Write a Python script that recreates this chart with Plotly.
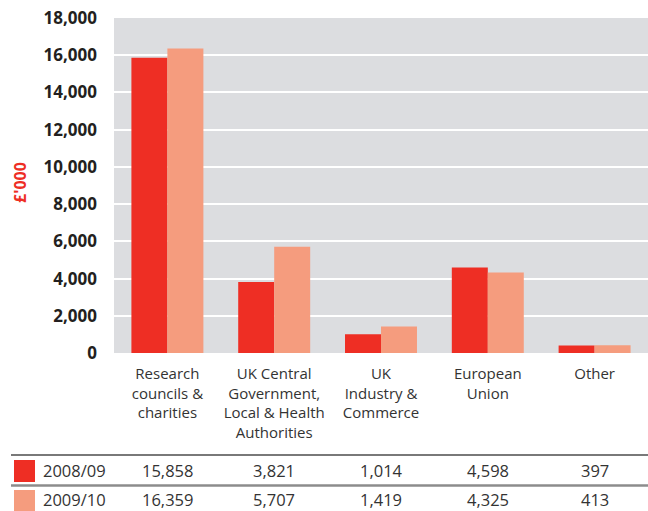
import plotly.graph_objects as go

# Research income by source, £'000
categories = [
    "Research<br>councils &<br>charities",
    "UK Central<br>Government,<br>Local & Health<br>Authorities",
    "UK<br>Industry &<br>Commerce",
    "European<br>Union",
    "Other",
]
years = ["2008/09", "2009/10"]
income_2008_09 = [15858, 3821, 1014, 4598, 397]
income_2009_10 = [16359, 5707, 1419, 4325, 413]
y_ticks = [0, 2000, 4000, 6000, 8000, 10000, 12000, 14000, 16000, 18000]

RED = "#ee2e24"
SALMON = "#f59c7e"
FONT = "Open Sans"

W, H = 648, 511
M_L, M_R, M_T, M_B = 114, 0, 18, 158
PW, PH = W - M_L - M_R, H - M_T - M_B


def px_x(x):
    return (x - M_L) / PW


def px_y(y):
    return (H - M_B - y) / PH


fig = go.Figure()
series = [(years[0], income_2008_09, RED), (years[1], income_2009_10, SALMON)]
for name, vals, col in series:
    fig.add_trace(go.Bar(x=categories, y=vals, name=name, marker_color=col,
                         marker_line_width=0, showlegend=False))

shapes = []
annotations = []

# table rules
shapes.append(dict(type="line", xref="paper", yref="paper",
                   x0=px_x(11), x1=1, y0=px_y(455), y1=px_y(455),
                   line=dict(color="#4d4d4d", width=1.5)))
shapes.append(dict(type="line", xref="paper", yref="paper",
                   x0=px_x(11), x1=1, y0=px_y(485.5), y1=px_y(485.5),
                   line=dict(color="#8c8c8c", width=2.5)))

row_centres = [470.5, 499]
swatch_spans = [(460, 482), (490, 511)]
for (name, vals, col), yc, (s0, s1) in zip(series, row_centres, swatch_spans):
    shapes.append(dict(type="rect", xref="paper", yref="paper",
                       x0=px_x(14), x1=px_x(35), y0=px_y(s0), y1=px_y(s1),
                       fillcolor=col, line_width=0))
    annotations.append(dict(text=name, xref="paper", yref="paper",
                            x=px_x(41), y=px_y(yc), xanchor="left", yanchor="middle",
                            showarrow=False, font=dict(family=FONT, size=16.5, color="#333333")))
    for cat, v in zip(categories, vals):
        annotations.append(dict(text=f"{v:,}", xref="x", yref="paper",
                                x=cat, y=px_y(yc), xanchor="center", yanchor="middle",
                                showarrow=False, font=dict(family=FONT, size=16.5, color="#333333")))

# axis unit label
annotations.append(dict(text="<b>£'000</b>", xref="paper", yref="paper",
                        x=px_x(20), y=px_y(182), textangle=-90,
                        xanchor="center", yanchor="middle", showarrow=False,
                        font=dict(family=FONT, size=16, color=RED)))

fig.update_layout(
    width=W, height=H,
    margin=dict(l=M_L, r=M_R, t=M_T, b=M_B),
    paper_bgcolor="white",
    plot_bgcolor="#dcdde0",
    barmode="group",
    bargap=0.326,
    bargroupgap=0,
    shapes=shapes,
    annotations=annotations,
    font=dict(family=FONT, color="#333333"),
)
fig.update_xaxes(showgrid=False, zeroline=False, showline=False, ticks="",
                 tickfont=dict(family=FONT, size=15, color="#333333"),
                 ticklabelstandoff=10)
fig.update_yaxes(range=[0, 18000], tickvals=y_ticks,
                 ticktext=[f"{t:,}" for t in y_ticks],
                 showgrid=True, gridcolor="white", gridwidth=1.5,
                 zeroline=False, showline=False, ticks="",
                 tickfont=dict(family=FONT, size=17, color="#231f20", weight="bold"),
                 ticklabelstandoff=16)

fig.write_html("out.html")
